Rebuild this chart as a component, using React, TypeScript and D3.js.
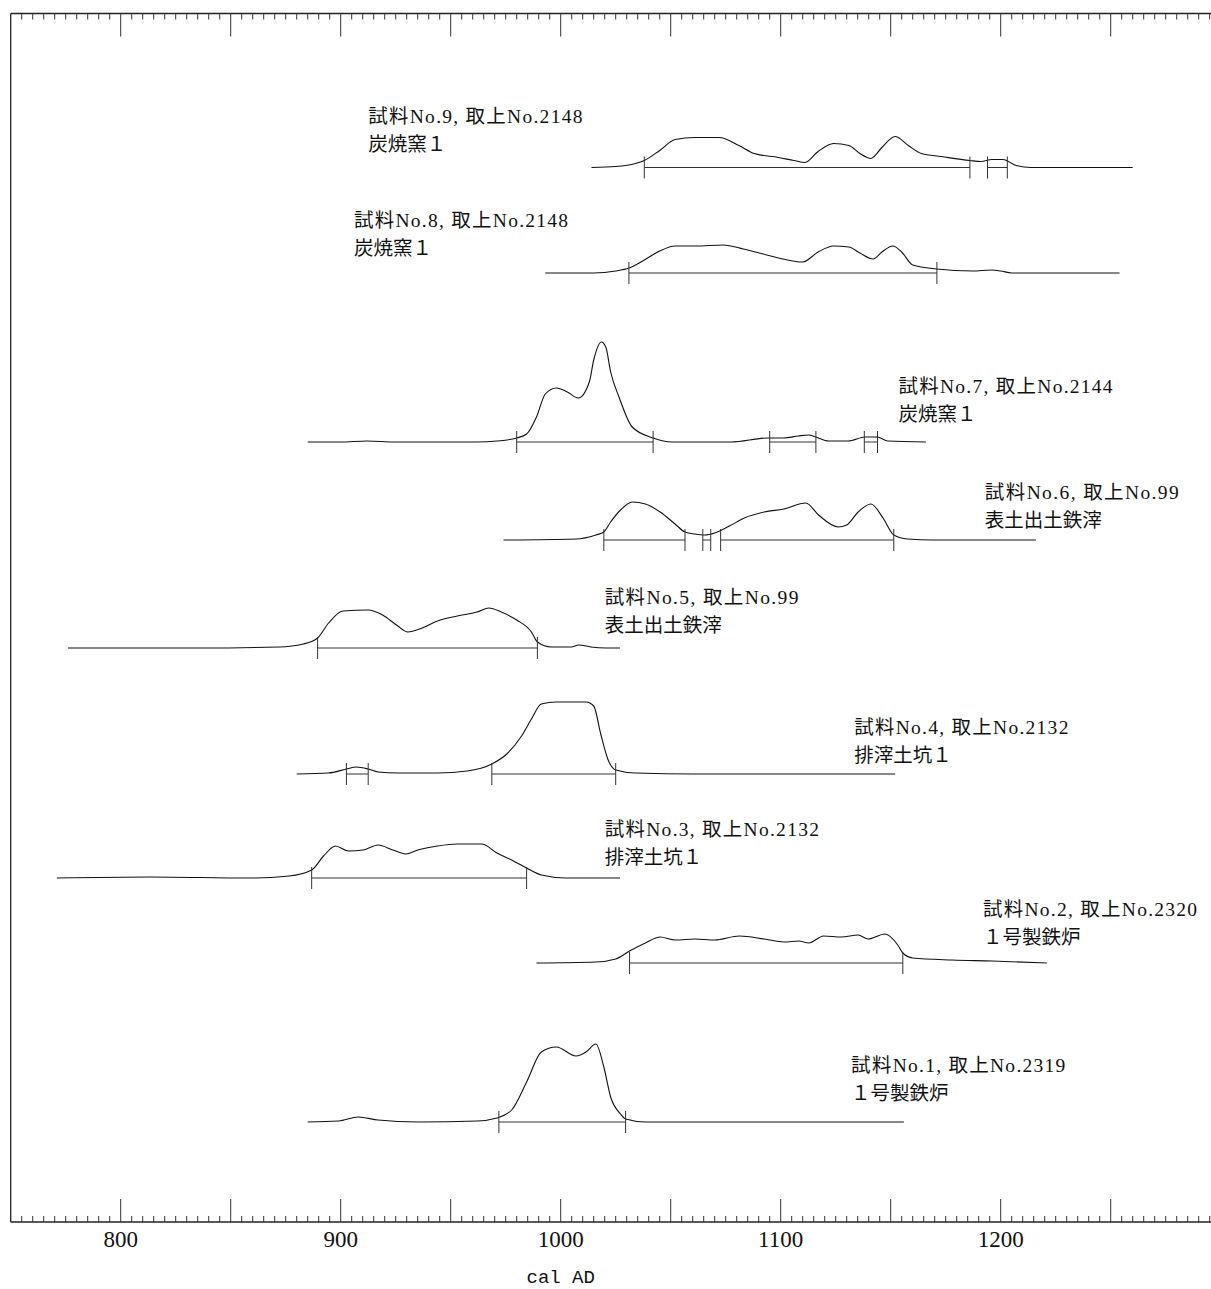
import React from 'react';
import * as d3 from 'd3';

const W = 1211;
const H = 1289;

// ---- data (top to bottom: sample 9 ... sample 1) ----
const labelLine1 = [
  '試料No.9, 取上No.2148',
  '試料No.8, 取上No.2148',
  '試料No.7, 取上No.2144',
  '試料No.6, 取上No.99',
  '試料No.5, 取上No.99',
  '試料No.4, 取上No.2132',
  '試料No.3, 取上No.2132',
  '試料No.2, 取上No.2320',
  '試料No.1, 取上No.2319',
];
const labelLine2 = ['炭焼窯１', '炭焼窯１', '炭焼窯１', '表土出土鉄滓', '表土出土鉄滓', '排滓土坑１', '排滓土坑１', '１号製鉄炉', '１号製鉄炉'];

// probability curves: [cal AD year, relative density]
const curve9: [number, number][] = [
  [1014, 0], [1025, 1], [1034, 4], [1038, 7], [1045, 17], [1052, 28], [1061, 30], [1072, 30], [1081, 22],
  [1088, 14], [1099, 10], [1106, 7], [1111, 5], [1117, 16], [1124, 24], [1131, 22], [1136, 14], [1141, 9],
  [1146, 20], [1152, 31], [1158, 22], [1164, 14], [1173, 11], [1186, 7], [1191, 6], [1196, 8], [1201, 8],
  [1207, 2], [1214, 0], [1260, 0],
];
const curve8: [number, number][] = [
  [993, 0], [1015, 0], [1025, 2], [1031, 5], [1038, 13], [1045, 22], [1052, 27], [1061, 27], [1074, 28],
  [1083, 24], [1092, 19], [1101, 14], [1110, 11], [1117, 21], [1124, 27], [1131, 26], [1136, 20], [1142, 14],
  [1146, 21], [1151, 27], [1155, 21], [1160, 8], [1171, 4], [1187, 2], [1196, 3], [1200, 2], [1205, 0], [1254, 0],
];
const curve7: [number, number][] = [
  [885, 0], [900, 0], [912, 1], [925, 0], [962, 0], [971, 1], [980, 4], [984.5, 8], [989, 25], [993, 48],
  [998, 54], [1003, 50], [1008, 44], [1013, 60], [1015, 82], [1018.5, 100], [1020.5, 95], [1022.7, 70],
  [1026.5, 45], [1032.5, 15], [1042, 4], [1050.5, 0], [1077.5, 0], [1094, 4], [1101.5, 4], [1108, 6],
  [1112.7, 7], [1116, 5], [1121.7, 1], [1130.7, 1], [1138.4, 5], [1143.8, 5], [1148.7, 1], [1166, 0],
];
const curve6: [number, number][] = [
  [974, 0], [1007, 1], [1016, 5], [1019.6, 8], [1022.7, 18], [1027.2, 30], [1032.6, 38], [1038.5, 36],
  [1045.2, 28], [1052, 16], [1056.5, 8], [1061, 6], [1065.5, 5], [1070, 7], [1076.7, 14], [1083.5, 22],
  [1092.5, 28], [1101.5, 31], [1111.4, 37], [1117.2, 25], [1126.2, 13], [1130, 15], [1135.2, 28], [1141, 36],
  [1146.5, 22], [1151.4, 5], [1157.7, 1], [1169, 0], [1216, 0],
];
const curve5: [number, number][] = [
  [776, 0], [836, 0], [872, 1], [883, 4], [889.5, 10], [894.5, 25], [901, 37], [912.5, 38], [919, 33],
  [926, 22], [930.5, 16], [937, 20], [944, 27], [953, 32], [962, 36], [967.4, 40], [973, 36], [980, 28],
  [986.7, 16], [989.4, 6], [995.7, 1], [1004.7, 1], [1008.3, 3], [1013.7, 1], [1020.5, 0], [1027, 0],
];
const curve4: [number, number][] = [
  [880, 0], [894.5, 1], [902.6, 5], [907, 7], [912.5, 5], [917, 2], [926, 1], [944, 1], [957.5, 3],
  [968.7, 10], [975.5, 20], [982.2, 38], [986.7, 55], [991.2, 70], [998, 72], [1011.5, 72], [1015, 68],
  [1018.2, 40], [1021.4, 15], [1025, 4], [1034, 1], [1061, 0], [1152, 0],
];
const curve3: [number, number][] = [
  [771, 0], [813.5, 1], [858.5, 0], [876.5, 2], [886.8, 8], [892.2, 22], [897.6, 32], [903.5, 27],
  [910.2, 28], [917, 33], [923.7, 28], [929.6, 24], [935, 28], [944, 32], [953, 34], [964.2, 34],
  [971, 25], [977.7, 18], [984.5, 10], [991.2, 3], [1002.5, 0], [1027, 0],
];
const curve2: [number, number][] = [
  [989, 0], [1016, 1], [1025, 4], [1031.3, 12], [1038.5, 20], [1045.2, 26], [1052, 23], [1061, 24],
  [1070, 23], [1081.2, 27], [1092.5, 24], [1101.5, 21], [1108.2, 22], [1112.7, 20], [1119.5, 27],
  [1127.6, 26], [1135.2, 28], [1139.7, 24], [1147.4, 29], [1153.2, 18], [1155.5, 10], [1160, 5],
  [1178, 3], [1196, 2], [1221, 0],
];
const curve1: [number, number][] = [
  [885, 0], [899, 1], [908, 5], [917, 2], [935, 0], [962, 1], [971, 4], [977.7, 12], [984.5, 40],
  [991.2, 70], [998, 75], [1007, 66], [1011.5, 70], [1016, 78], [1019.6, 55], [1022.7, 25], [1027.2, 8],
  [1029.5, 3], [1038.5, 0], [1156, 0],
];

// calibrated ranges [from, to] cal AD
const ranges9 = [[1038, 1186], [1194, 1203]];
const ranges8 = [[1031, 1171]];
const ranges7 = [[980, 1042], [1095, 1116], [1138, 1144]];
const ranges6 = [[1019.6, 1056.5], [1064.6, 1068.2], [1072.7, 1151.4]];
const ranges5 = [[889.5, 989.4]];
const ranges4 = [[902.6, 912.5], [968.7, 1025]];
const ranges3 = [[886.8, 984.5]];
const ranges2 = [[1031.3, 1155.5]];
const ranges1 = [[971.9, 1029.5]];

const axisLabels = [800, 900, 1000, 1100, 1200];
const axisTitle = 'cal AD';

// ---- layout ----
const rowBaseline = [167.5, 273, 442, 540, 648, 774, 878, 963, 1122];
// label anchor: [year at left edge of text, offset of first line baseline from row baseline]
const labelAnchor: [number, number][] = [
  [912.5, -45], [906, -46], [1153.5, -49], [1192.8, -41], [1020, -44], [1133.4, -40], [1020, -42], [1191.9, -47], [1132, -50],
];

const curves = [curve9, curve8, curve7, curve6, curve5, curve4, curve3, curve2, curve1];
const ranges = [ranges9, ranges8, ranges7, ranges6, ranges5, ranges4, ranges3, ranges2, ranges1];

const LEFT = 10.7;
const TOP = 13.5;
const BOTTOM = 1222;
const EM = 20.4; // label em width (full-width char); half-width chars = EM/2

function textWidth(s: string) {
  let w = 0;
  for (const ch of s) w += ch.charCodeAt(0) > 0x2000 ? EM : EM / 2;
  return w;
}

export default function App() {
  const x = d3.scaleLinear().domain([750, 1300]).range([LEFT, LEFT + 550 * 2.2]);
  const y = d3.scaleLinear().domain([0, 100]).range([0, -100]);
  const line = d3
    .line<[number, number]>()
    .x((d) => x(d[0]))
    .y((d) => y(d[1]))
    .curve(d3.curveMonotoneX);

  const minor = d3.range(755, 1300, 5).filter((v) => v % 50 !== 0);
  const major = d3.range(800, 1300, 50);
  const font = '"Liberation Serif", "Noto Sans CJK JP", serif';

  return (
    <svg
      width={W}
      height={H}
      style={{ position: 'absolute', left: 0, top: 0, background: '#fff' }}
      xmlns="http://www.w3.org/2000/svg"
    >
      <rect x={0} y={0} width={W} height={H} fill="#fff" />
      {/* frame */}
      <g stroke="#222" strokeWidth={1.3} fill="none">
        <line x1={LEFT} x2={W} y1={TOP} y2={TOP} />
        <line x1={LEFT} x2={W} y1={BOTTOM} y2={BOTTOM} />
        <line x1={LEFT} x2={LEFT} y1={TOP} y2={BOTTOM} />
      </g>
      <g stroke="#333" strokeWidth={1}>
        {minor.map((v) => (
          <g key={'m' + v}>
            <line x1={x(v)} x2={x(v)} y1={TOP} y2={TOP + 6} />
            <line x1={x(v)} x2={x(v)} y1={BOTTOM} y2={BOTTOM - 6} />
          </g>
        ))}
        {major.map((v) => (
          <g key={'M' + v}>
            <line x1={x(v)} x2={x(v)} y1={TOP} y2={TOP + 23} />
            <line x1={x(v)} x2={x(v)} y1={BOTTOM} y2={BOTTOM - 23} />
          </g>
        ))}
      </g>
      <g fontFamily={font} fontSize={23} fill="#111" textAnchor="middle">
        {axisLabels.map((v) => (
          <text key={v} x={x(v)} y={BOTTOM + 25}>
            {v}
          </text>
        ))}
      </g>
      <text
        x={x(1000)}
        y={BOTTOM + 61}
        textAnchor="middle"
        fontFamily='"Liberation Mono", monospace'
        fontSize={19}
        fill="#111"
      >
        {axisTitle}
      </text>

      {curves.map((c, i) => (
        <g key={i} transform={`translate(0,${rowBaseline[i]})`}>
          <path d={line(c) || ''} fill="none" stroke="#111" strokeWidth={1.1} />
          {ranges[i].map((r, j) => (
            <g key={j} stroke="#333" strokeWidth={1}>
              <line x1={x(r[0])} x2={x(r[1])} y1={0} y2={0} />
              <line x1={x(r[0])} x2={x(r[0])} y1={-11} y2={11} />
              <line x1={x(r[1])} x2={x(r[1])} y1={-11} y2={11} />
            </g>
          ))}
          <g fontFamily={font} fontSize={19.5} fill="#111">
            <text
              x={x(labelAnchor[i][0])}
              y={labelAnchor[i][1]}
              textLength={textWidth(labelLine1[i])}
              lengthAdjust="spacing"
            >
              {labelLine1[i]}
            </text>
            <text x={x(labelAnchor[i][0])} y={labelAnchor[i][1] + 28}>
              {labelLine2[i]}
            </text>
          </g>
        </g>
      ))}
    </svg>
  );
}
